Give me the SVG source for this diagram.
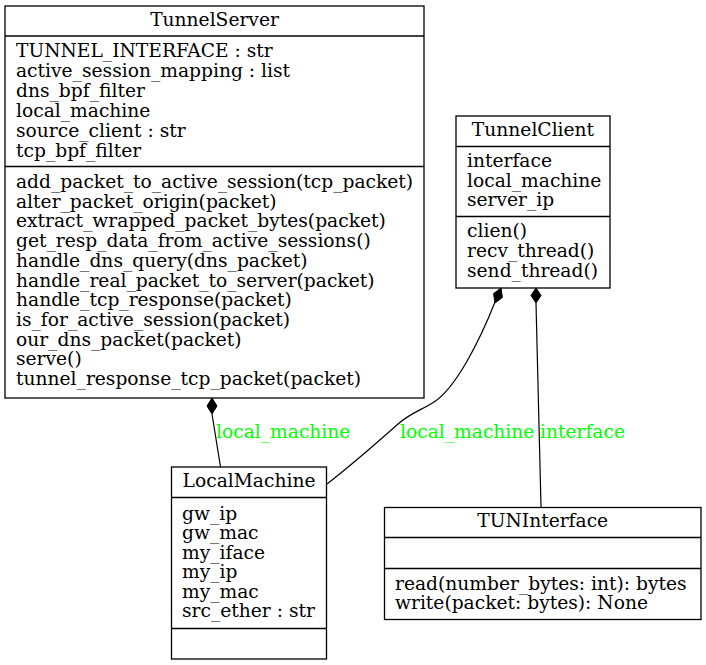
<svg xmlns="http://www.w3.org/2000/svg" width="706" height="665" viewBox="0 0 706 665">
<style>
text{font-family:"DejaVu Serif",serif;font-size:18.67px;fill:#000}
.t{text-anchor:middle}
.lbl{fill:#00ff00}
.box{fill:none;stroke:#000;stroke-width:1.3}
.sep{stroke:#000;stroke-width:1.3}
.edge{fill:none;stroke:#000;stroke-width:1.2}
.dia{fill:#000;stroke:#000;stroke-width:1}
</style>
<rect width="706" height="665" fill="#fff"/>
<g id="TunnelServer">
<rect class="box" x="5" y="6" width="419" height="392"/>
<line class="sep" x1="5" y1="36" x2="424" y2="36"/>
<line class="sep" x1="5" y1="166.5" x2="424" y2="166.5"/>
<text class="t" x="214.5" y="26">TunnelServer</text>
<text x="16" y="57">TUNNEL_INTERFACE : str</text>
<text x="16" y="77">active_session_mapping : list</text>
<text x="16" y="97">dns_bpf_filter</text>
<text x="16" y="117">local_machine</text>
<text x="16" y="137">source_client : str</text>
<text x="16" y="157">tcp_bpf_filter</text>
<text x="16" y="188">add_packet_to_active_session(tcp_packet)</text>
<text x="16" y="207.7">alter_packet_origin(packet)</text>
<text x="16" y="227.4">extract_wrapped_packet_bytes(packet)</text>
<text x="16" y="247.1">get_resp_data_from_active_sessions()</text>
<text x="16" y="266.8">handle_dns_query(dns_packet)</text>
<text x="16" y="286.5">handle_real_packet_to_server(packet)</text>
<text x="16" y="306.2">handle_tcp_response(packet)</text>
<text x="16" y="325.9">is_for_active_session(packet)</text>
<text x="16" y="345.6">our_dns_packet(packet)</text>
<text x="16" y="365.3">serve()</text>
<text x="16" y="385">tunnel_response_tcp_packet(packet)</text>
</g>
<g id="TunnelClient">
<rect class="box" x="456" y="116" width="154" height="172"/>
<line class="sep" x1="456" y1="146.5" x2="610" y2="146.5"/>
<line class="sep" x1="456" y1="216.5" x2="610" y2="216.5"/>
<text class="t" x="533" y="136">TunnelClient</text>
<text x="467" y="167">interface</text>
<text x="467" y="187">local_machine</text>
<text x="467" y="206">server_ip</text>
<text x="467" y="237">clien()</text>
<text x="467" y="257">recv_thread()</text>
<text x="467" y="277">send_thread()</text>
</g>
<g id="LocalMachine">
<rect class="box" x="171.5" y="467" width="155" height="192"/>
<line class="sep" x1="171.5" y1="497.5" x2="326.5" y2="497.5"/>
<line class="sep" x1="171.5" y1="628.5" x2="326.5" y2="628.5"/>
<text class="t" x="249" y="487">LocalMachine</text>
<text x="182" y="519.5">gw_ip</text>
<text x="182" y="539">gw_mac</text>
<text x="182" y="558.5">my_iface</text>
<text x="182" y="578">my_ip</text>
<text x="182" y="597.5">my_mac</text>
<text x="182" y="617">src_ether : str</text>
</g>
<g id="TUNInterface">
<rect class="box" x="384.5" y="507.5" width="316.5" height="112"/>
<line class="sep" x1="384.5" y1="537.5" x2="701" y2="537.5"/>
<line class="sep" x1="384.5" y1="568.5" x2="701" y2="568.5"/>
<text class="t" x="542.7" y="527">TUNInterface</text>
<text x="395" y="589.5">read(number_bytes: int): bytes</text>
<text x="395" y="608.5">write(packet: bytes): None</text>
</g>
<g id="connectors">
<polygon class="dia" points="212,398 217,406 212,414 207,406"/>
<path class="edge" d="M212,414 L220.5,467"/>
<text class="lbl" x="216" y="438">local_machine</text>
<polygon class="dia" points="501,288 502.4,297.4 495,303 493.6,293.6"/>
<path class="edge" d="M495,302 C480,340 456,388 434,402 C420,411 412,412 398,424 C380,440 345,470 327,484"/>
<text class="lbl" x="400" y="438">local_machine</text>
<polygon class="dia" points="536,288 541,295.5 536,303 531,295.5"/>
<path class="edge" d="M536,303 L541,507"/>
<text class="lbl" x="540" y="438">interface</text>
</g>
</svg>
